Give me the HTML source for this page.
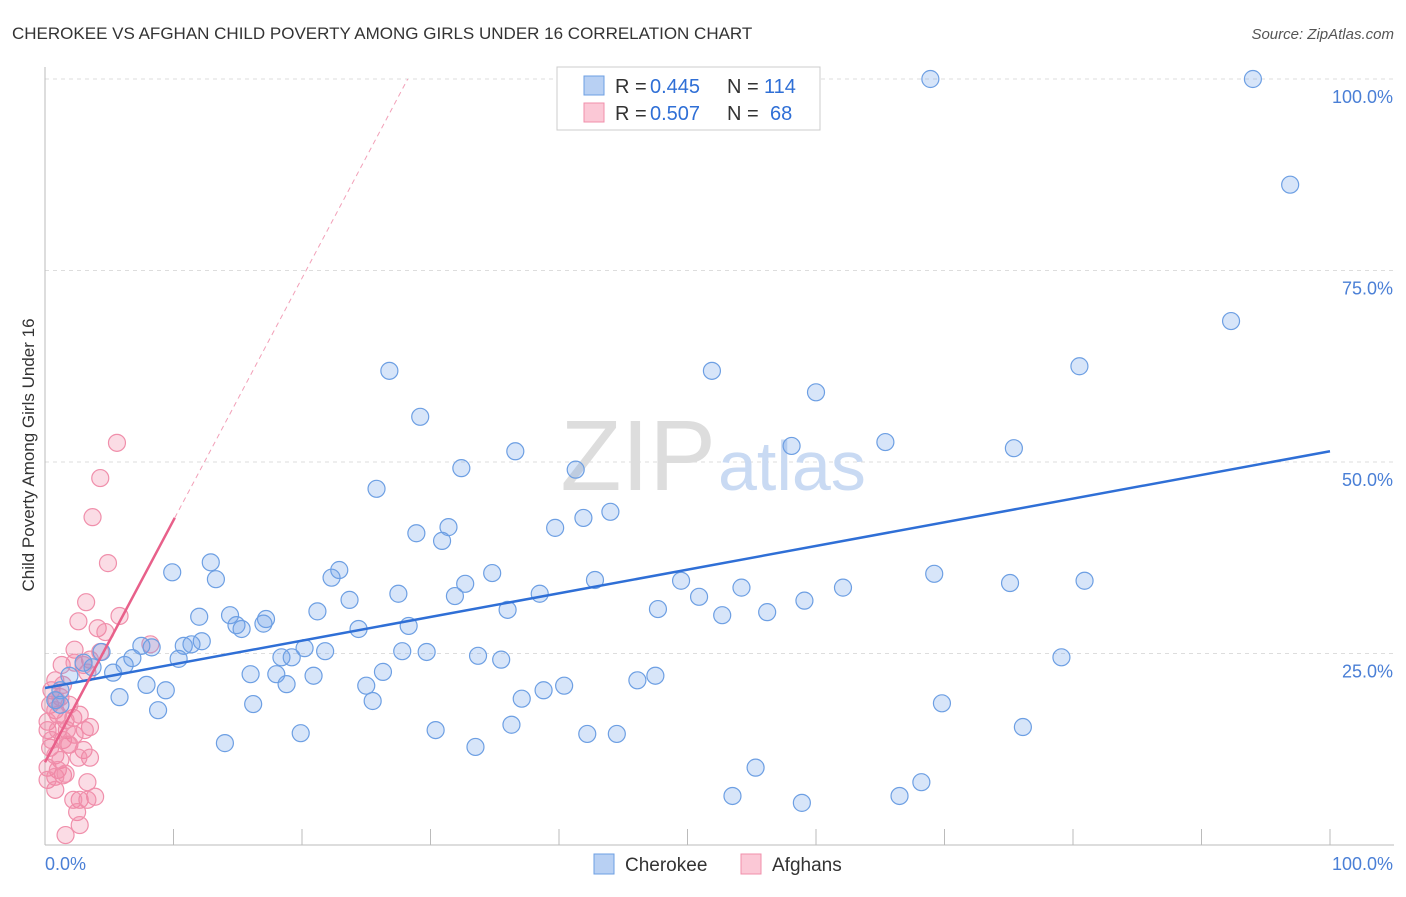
<!DOCTYPE html>
<html><head><meta charset="utf-8"><style>
body{margin:0;background:#fff;font-family:"Liberation Sans",sans-serif;}
svg text{font-family:"Liberation Sans",sans-serif;}
</style></head><body>
<svg id="chart" width="1406" height="892" viewBox="0 0 1406 892" xmlns="http://www.w3.org/2000/svg">
<text x="12" y="39" font-size="17" fill="#333">CHEROKEE VS AFGHAN CHILD POVERTY AMONG GIRLS UNDER 16 CORRELATION CHART</text>
<text x="1394" y="39" font-size="15" fill="#555" text-anchor="end" font-style="italic">Source: ZipAtlas.com</text>
<text transform="translate(34,455) rotate(-90)" font-size="17" fill="#333" text-anchor="middle">Child Poverty Among Girls Under 16</text>
<g id="grid"></g>
<text x="716" y="490" font-size="100" fill="#ddd" text-anchor="end" font-family="Liberation Serif">ZIP</text>
<text x="718" y="490" font-size="70" fill="#c9daf3">atlas</text>
<g id="pts"></g>
<g id="lines"></g>
<g>
<rect x="557" y="67" width="263" height="63" fill="#fff" stroke="#ccc"/>
<rect x="584" y="76" width="20" height="19" fill="#b8d0f3" stroke="#6d9fe3"/>
<rect x="584" y="103" width="20" height="19" fill="#fbc8d6" stroke="#f08fab"/>
<text x="615" y="93" font-size="20" fill="#333">R =</text>
<text x="650" y="93" font-size="20" fill="#2f6fd6">0.445</text>
<text x="727" y="93" font-size="20" fill="#333">N =</text>
<text x="764" y="93" font-size="20" fill="#2f6fd6">114</text>
<text x="615" y="120" font-size="20" fill="#333">R =</text>
<text x="650" y="120" font-size="20" fill="#2f6fd6">0.507</text>
<text x="727" y="120" font-size="20" fill="#333">N =</text>
<text x="770" y="120" font-size="20" fill="#2f6fd6">68</text>
</g>
<g>
<rect x="594" y="854" width="20" height="20" fill="#b8d0f3" stroke="#6d9fe3"/>
<text x="625" y="871" font-size="19" fill="#333">Cherokee</text>
<rect x="741" y="854" width="20" height="20" fill="#fbc8d6" stroke="#f08fab"/>
<text x="772" y="871" font-size="19" fill="#333">Afghans</text>
</g>
</svg>
<script>
const yTicks=[25,50,75,100];
const yTickLabels=["25.0%","50.0%","75.0%","100.0%"];
const xEndLabels=["0.0%","100.0%"];
const cherokeeX=[68.9,94.0,96.9,92.3,80.5,51.9,26.8,60.0,29.2,58.1,65.4,75.4,36.6,32.4,41.3,25.8,41.9,44.0,39.7,28.9,31.4,30.9,9.9,12.9,13.3,22.9,22.3,34.8,32.7,42.8,49.5,69.2,75.1,80.9,27.5,23.7,38.5,31.9,50.9,54.2,59.1,62.1,21.2,36.0,47.7,56.2,52.7,12.0,14.4,17.2,17.0,14.9,15.3,24.4,28.3,12.2,10.8,11.4,8.3,7.5,20.2,21.8,27.8,29.7,33.7,35.5,18.4,19.2,10.4,6.8,79.1,4.4,6.2,3.7,3.0,5.3,16.0,18.0,26.3,20.9,47.5,46.1,18.8,25.0,7.9,9.4,5.8,40.4,38.8,37.1,25.5,16.2,69.8,8.8,36.3,30.4,76.1,19.9,14.0,42.2,44.5,33.5,55.3,68.2,53.5,66.5,58.9,1.9,1.2,0.8,1.2];
const cherokeeY=[100,100,86.2,68.4,62.5,61.9,61.9,59.1,55.9,52.1,52.6,51.8,51.4,49.2,49.0,46.5,42.7,43.5,41.4,40.7,41.5,39.7,35.6,36.9,34.7,35.9,34.9,35.5,34.1,34.6,34.5,35.4,34.2,34.5,32.8,32.0,32.8,32.5,32.4,33.6,31.9,33.6,30.5,30.7,30.8,30.4,30.0,29.8,30.0,29.5,28.9,28.7,28.2,28.2,28.6,26.6,26.0,26.2,25.8,26.0,25.7,25.3,25.3,25.2,24.7,24.2,24.5,24.5,24.3,24.4,24.5,25.2,23.5,23.2,23.8,22.5,22.3,22.3,22.6,22.1,22.1,21.5,21.0,20.8,20.9,20.2,19.3,20.8,20.2,19.1,18.8,18.4,18.5,17.6,15.7,15.0,15.4,14.6,13.3,14.5,14.5,12.8,10.1,8.2,6.4,6.4,5.5,22.1,20.2,18.9,18.3];
const afghanX=[5.6,4.3,3.7,4.9,3.2,5.8,2.6,4.1,4.7,8.2,2.3,3.5,1.3,2.3,0.8,3.3,3.0,0.5,1.2,0.4,0.8,1.0,1.6,2.2,0.2,3.5,1.7,2.3,1.4,1.9,0.4,3.0,0.8,1.2,3.5,0.2,1.0,1.4,0.8,3.3,1.6,1.9,1.4,0.9,2.7,3.9,3.3,2.2,2.5,2.7,1.6,1.8,0.2,0.5,0.2,0.8,3.1,2.7,1.0,2.6,4.3];
const afghanY=[52.5,47.9,42.8,36.8,31.7,29.9,29.2,28.3,27.8,26.2,25.5,24.2,23.5,23.8,21.5,22.5,23.5,20.2,19.3,18.3,17.6,17.0,16.3,16.6,16.1,15.4,15.0,14.4,13.7,13.1,12.7,12.4,11.7,11.1,11.4,10.1,9.8,9.1,8.9,8.2,9.3,18.3,20.9,18.9,5.9,6.3,5.9,5.9,4.3,2.6,1.3,13.1,15.0,13.7,8.5,7.2,15.0,17.0,15.0,11.4,25.2];
const cherokeeTrend=[20.5,51.4];
const afghanTrend=[10.8,3.16];
const NS="http://www.w3.org/2000/svg";
const X0=45,X1=1330,Y0=845,Y100=79;
const sx=v=>X0+(X1-X0)*v/100;
const sy=v=>Y0-(Y0-Y100)*v/100;
function mk(tag,attrs,parent){const e=document.createElementNS(NS,tag);for(const k in attrs)e.setAttribute(k,attrs[k]);parent.appendChild(e);return e;}
const grid=document.getElementById('grid');
yTicks.forEach((t,i)=>{
  const l=mk('line',{x1:X0,x2:1394,y1:sy(t),y2:sy(t),stroke:'#ddd','stroke-dasharray':'4,4'},grid);
  
  
  const tx=mk('text',{x:1393,y:sy(t)+24,'font-size':18,fill:'#4a7fd6','text-anchor':'end'},grid);
  tx.textContent=yTickLabels[i];
  
  
});
mk('line',{x1:X0,x2:X0,y1:67,y2:Y0,stroke:'#bbb'},grid);
mk('line',{x1:X0,x2:1394,y1:Y0,y2:Y0,stroke:'#bbb'},grid);
for(let i=1;i<=10;i++){const t=mk('line',{x1:sx(i*10),x2:sx(i*10),y1:Y0,y2:Y0-16,stroke:'#bbb'},grid);
  
  }
const xl=mk('text',{x:45,y:870,'font-size':18,fill:'#4a7fd6'},grid);xl.textContent=xEndLabels[0];


const xr=mk('text',{x:1393,y:870,'font-size':18,fill:'#4a7fd6','text-anchor':'end'},grid);xr.textContent=xEndLabels[1];


const pts=document.getElementById('pts');
afghanX.forEach((x,i)=>{const c=mk('circle',{cx:sx(x),cy:sy(afghanY[i]),r:8.5,fill:'rgba(240,130,160,0.28)',stroke:'#f08fab','stroke-width':1.2},pts);
  
  });
cherokeeX.forEach((x,i)=>{const c=mk('circle',{cx:sx(x),cy:sy(cherokeeY[i]),r:8.5,fill:'rgba(110,160,235,0.28)',stroke:'#6d9fe3','stroke-width':1.2},pts);
  
  });
const lines=document.getElementById('lines');
const bl=mk('line',{x1:sx(0),y1:sy(cherokeeTrend[0]),x2:sx(100),y2:sy(cherokeeTrend[1]),stroke:'#2f6fd6','stroke-width':2.5},lines);


const pa=v=>afghanTrend[0]+afghanTrend[1]*v;
const xEnd=(100-afghanTrend[0])/afghanTrend[1];
const pd=mk('line',{x1:sx(10.1),y1:sy(pa(10.1)),x2:sx(xEnd),y2:sy(100),stroke:'#f2a0b8','stroke-width':1,'stroke-dasharray':'5,4'},lines);


const pl=mk('line',{x1:sx(0),y1:sy(pa(0)),x2:sx(10.1),y2:sy(pa(10.1)),stroke:'#e8608a','stroke-width':2.5},lines);


</script>
</body></html>
